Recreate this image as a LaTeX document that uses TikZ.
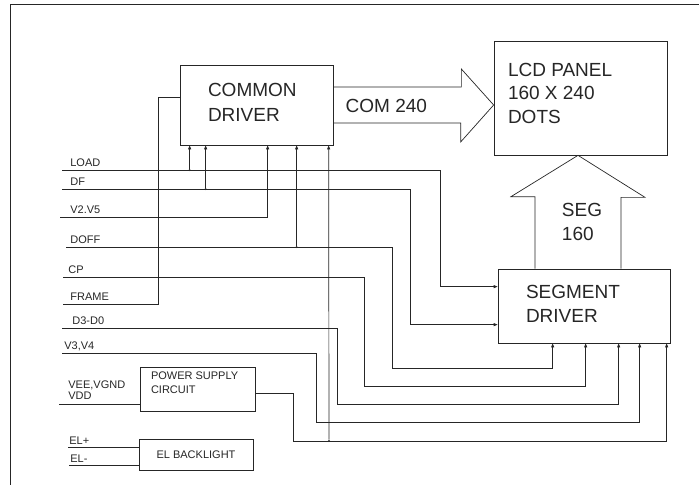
\documentclass[tikz,border=0pt]{standalone}
\usepackage{fontspec}
\setmainfont{Liberation Sans}
\usetikzlibrary{positioning, arrows.meta, calc}

\begin{document}
\begin{tikzpicture}[
    x=1pt, y=-1pt,
    line width=0.7pt, draw=black!85,
    box/.style={draw, rectangle, inner sep=0pt},
    bigtext/.style={font=\fontsize{19}{24}\selectfont, align=left, inner sep=0pt, text=black!85},
    smalltext/.style={font=\fontsize{11}{11}\selectfont, align=left, inner sep=0pt, text=black!85},
    sig/.style={smalltext, anchor=base west},
    arrow/.style={-{Triangle[length=4pt, width=3pt]}},
    hollow/.style={line width=0.7pt, line join=miter},
    dot/.style={circle, fill=black!85, inner sep=0pt, minimum size=2.2pt}
]
\useasboundingbox (0,0) rectangle (699,485);

% Frame
\draw (699,4) -- (10,4) -- (10,485);

% Blocks
\node[box, minimum width=153pt, minimum height=80pt] (cd) at (256.5,105) {};
\node[box, minimum width=173pt, minimum height=114pt] (lcd) at (580.5,98) {};
\node[box, minimum width=172pt, minimum height=74pt] (sd) at (584,306) {};
\node[box, minimum width=115pt, minimum height=44pt] (psu) at (197.5,389) {};
\node[box, minimum width=114pt, minimum height=31pt] (elb) at (196,454.5) {};

\node[bigtext, font=\fontsize{19}{25}\selectfont, below right=18pt and 28pt of cd.north west] (cd_txt) {COMMON\\DRIVER};
\node[bigtext, font=\fontsize{19}{23.5}\selectfont, below right=22pt and 14pt of lcd.north west] (lcd_txt) {LCD PANEL\\160 X 240\\DOTS};
\node[bigtext, below right=16pt and 28pt of sd.north west] (sd_txt) {SEGMENT\\DRIVER};
\node[smalltext, font=\fontsize{11}{14}\selectfont, below right=5pt and 11pt of psu.north west] (psu_txt) {POWER SUPPLY\\CIRCUIT};
\node[smalltext] (el_txt) at (elb) {EL BACKLIGHT};

% Hollow bus arrows
\draw[hollow] ($(cd.east)+(0,-18)$) -- ++(128,0) -- ++(0,-18) -- (lcd.west |- cd.east)
    -- ++(-33,37) -- ++(0,-19) -- ($(cd.east)+(0,18)$);
\node[bigtext] (com_txt) at ($(cd.east)+(53,1)$) {COM 240};

\coordinate (segbase) at ($(sd.north)+(-6,0)$);
\draw[hollow] ($(segbase)+(-43,0)$) -- ++(0,-72) -- ++(-24,0) -- (segbase |- lcd.south)
    -- ++(67,42) -- ++(-24,0) -- ($(segbase)+(43,0)$);
\node[bigtext] (seg_txt) at ($(segbase)+(4,-47)$) {SEG\\160};

% Pins
\coordinate (cd_l) at ($(cd.north west)+(0,33)$);
\coordinate (cd_b1) at ($(cd.south west)+(10,0)$);
\coordinate (cd_b2) at ($(cd.south west)+(26,0)$);
\coordinate (cd_b3) at ($(cd.south west)+(88,0)$);
\coordinate (cd_b4) at ($(cd.south west)+(117,0)$);
\coordinate (cd_b5) at ($(cd.south west)+(149,0)$);
\coordinate (sd_l1) at ($(sd.north west)+(0,18)$);
\coordinate (sd_l2) at ($(sd.north west)+(0,56)$);
\coordinate (sd_b1) at ($(sd.south west)+(55,0)$);
\coordinate (sd_b2) at ($(sd.south west)+(88,0)$);
\coordinate (sd_b3) at ($(sd.south west)+(121,0)$);
\coordinate (sd_b4) at ($(sd.south west)+(142,0)$);
\coordinate (sd_b5) at ($(sd.south west)+(169,0)$);
\coordinate (psu_out) at ($(psu.north east)+(0,27)$);

% Signal inputs
\coordinate (load) at (62,170);
\coordinate (df) at (62,189);
\coordinate (v25) at (60,217);
\coordinate (doff) at (66,247);
\coordinate (cp) at (63,277);
\coordinate (frame) at (63,304);
\coordinate (d30) at (62,328);
\coordinate (v34) at (62,353);
\coordinate (vee) at (59,404);
\coordinate (elp) at (68,447);
\coordinate (elm) at (69,465);

\node[sig] (load_lbl) at ($(load)+(8,-4)$) {LOAD};
\node[sig] (df_lbl) at ($(df)+(8,-4)$) {DF};
\node[sig] (v25_lbl) at ($(v25)+(10,-4)$) {V2.V5};
\node[sig] (doff_lbl) at ($(doff)+(4,-4)$) {DOFF};
\node[sig] (cp_lbl) at ($(cp)+(5,-4)$) {CP};
\node[sig] (frame_lbl) at ($(frame)+(7,-4)$) {FRAME};
\node[sig] (d30_lbl) at ($(d30)+(10,-4)$) {D3-D0};
\node[sig] (v34_lbl) at ($(v34)+(2,-4)$) {V3,V4};
\node[smalltext, anchor=south west] (vee_lbl) at ($(vee)+(9,-4)$) {VEE,VGND\\VDD};
\node[sig] (elp_lbl) at ($(elp)+(1,-3)$) {EL+};
\node[sig] (elm_lbl) at ($(elm)+(1,-3)$) {EL-};

% Wiring
\draw[arrow] (load) -- (440,170) |- (sd_l1);
\draw[arrow] (df) -- (410,189) |- (sd_l2);
\draw[arrow] (v25) -| (cd_b3);
\draw[arrow] (doff) -| (392,368) -| (sd_b1);
\draw[arrow] (cp) -| (364,386) -| (sd_b2);
\draw (frame) -- (158,304) |- (cd_l);
\draw[arrow] (d30) -| (337,404) -| (sd_b3);
\draw[arrow] (v34) -| (316,422) -| (sd_b4);
\draw (vee) -- (vee -| psu.west);
\draw[arrow] (psu_out) -| (293,441) -| (sd_b5);
\draw (elp) -- (elp -| elb.west);
\draw (elm) -- (elm -| elb.west);

% Taps to common driver
\node[dot] (j_load) at (cd_b1 |- load) {};
\node[dot] (j_df) at (cd_b2 |- df) {};
\node[dot] (j_doff) at (cd_b4 |- doff) {};
\node[dot] (j_pwr) at (329,441) {};
\draw[arrow] (j_load) -- (cd_b1);
\draw[arrow] (j_df) -- (cd_b2);
\draw[arrow] (j_doff) -- (cd_b4);
\draw[arrow] (j_pwr) -- (cd_b5);

\end{tikzpicture}
\end{document}
